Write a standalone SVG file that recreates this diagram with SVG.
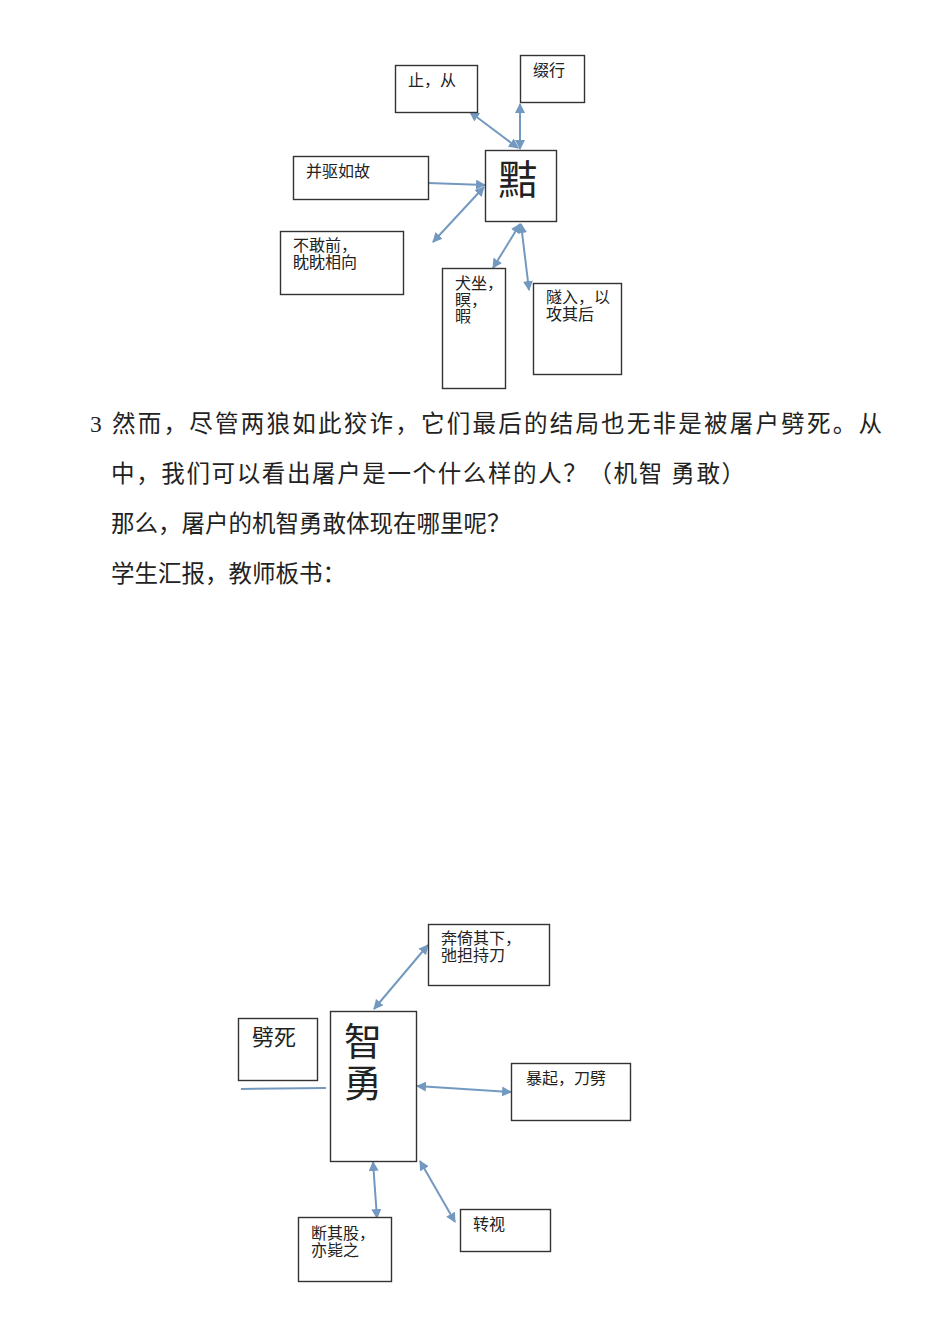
<svg xmlns="http://www.w3.org/2000/svg" width="950" height="1344" viewBox="0 0 950 1344">
<style>
.box{fill:#fff;stroke:#333;stroke-width:1.4}
.t{font-family:"Liberation Serif","Noto Sans CJK SC",serif;fill:#222}
.s{font-size:16px}
.p{font-size:23.5px}
.c{stroke:#7399c0;stroke-width:2;fill:none}
</style>
<defs>
<marker id="ah" viewBox="0 0 10 10" refX="9" refY="5" markerWidth="5" markerHeight="5" orient="auto-start-reverse" markerUnits="strokeWidth">
<path d="M0,0 L10,5 L0,10 Z" fill="#7399c0"/>
</marker>
</defs>
<rect width="950" height="1344" fill="#fff"/>

<g id="connectors">
<line class="c" x1="470" y1="112" x2="518" y2="148" marker-start="url(#ah)" marker-end="url(#ah)"/>
<line class="c" x1="520" y1="104" x2="520" y2="149" marker-start="url(#ah)" marker-end="url(#ah)"/>
<line class="c" x1="428" y1="183" x2="485" y2="185" marker-end="url(#ah)"/>
<line class="c" x1="484" y1="187" x2="433" y2="242" marker-start="url(#ah)" marker-end="url(#ah)"/>
<line class="c" x1="520" y1="224" x2="493" y2="268" marker-start="url(#ah)" marker-end="url(#ah)"/>
<line class="c" x1="521" y1="224" x2="529" y2="290" marker-start="url(#ah)" marker-end="url(#ah)"/>
<line class="c" x1="374" y1="1009" x2="428" y2="945" marker-start="url(#ah)" marker-end="url(#ah)"/>
<line class="c" x1="241" y1="1089" x2="326" y2="1088"/>
<line class="c" x1="417" y1="1086" x2="511" y2="1092" marker-start="url(#ah)" marker-end="url(#ah)"/>
<line class="c" x1="373" y1="1162" x2="377" y2="1218" marker-start="url(#ah)" marker-end="url(#ah)"/>
<line class="c" x1="420" y1="1161" x2="455" y2="1222" marker-start="url(#ah)" marker-end="url(#ah)"/>
</g>

<g id="n-zhicong"><rect class="box" x="395.5" y="65.5" width="82" height="47"/><text class="t s" x="408" y="86">止，从</text></g>
<g id="n-zhuixing"><rect class="box" x="520.5" y="55.5" width="64" height="47"/><text class="t s" x="533" y="76">缀行</text></g>
<g id="n-xia"><rect class="box" x="485.5" y="150.5" width="71" height="71"/><text class="t" x="518" y="194" font-size="40" text-anchor="middle">黠</text></g>
<g id="n-bingqu"><rect class="box" x="293.5" y="156.5" width="135" height="43"/><text class="t s" x="306" y="177">并驱如故</text></g>
<g id="n-bugan"><rect class="box" x="280.5" y="231.5" width="123" height="63"/><text class="t s" x="293" y="251">不敢前，</text><text class="t s" x="293" y="268">眈眈相向</text></g>
<g id="n-quanzuo"><rect class="box" x="442.5" y="268.5" width="63" height="120"/><text class="t s" x="455" y="289">犬坐，</text><text class="t s" x="455" y="306">瞑，</text><text class="t s" x="455" y="322">暇</text></g>
<g id="n-suiru"><rect class="box" x="533.5" y="283.5" width="88" height="91"/><text class="t s" x="546" y="303">隧入，以</text><text class="t s" x="546" y="320">攻其后</text></g>

<g id="paragraph">
<text class="t p" x="90" y="432" textLength="792" lengthAdjust="spacing">3  然而，尽管两狼如此狡诈，它们最后的结局也无非是被屠户劈死。从</text>
<text class="t p" x="111" y="482" textLength="634" lengthAdjust="spacing">中，我们可以看出屠户是一个什么样的人？（机智 勇敢）</text>
<text class="t p" x="111" y="532">那么，屠户的机智勇敢体现在哪里呢？</text>
<text class="t p" x="111" y="582">学生汇报，教师板书：</text>
</g>

<g id="n-benyi"><rect class="box" x="428.5" y="924.5" width="121" height="61"/><text class="t s" x="441" y="944">奔倚其下，</text><text class="t s" x="441" y="961">弛担持刀</text></g>
<g id="n-pisi"><rect class="box" x="238.5" y="1018.5" width="79" height="62"/><text class="t" x="252" y="1045" font-size="22">劈死</text></g>
<g id="n-zhiyong"><rect class="box" x="330.5" y="1011.5" width="86" height="150"/><text class="t" x="363" y="1055" font-size="38" text-anchor="middle">智</text><text class="t" x="363" y="1097" font-size="38" text-anchor="middle">勇</text></g>
<g id="n-baoqi"><rect class="box" x="511.5" y="1063.5" width="119" height="57"/><text class="t s" x="526" y="1084">暴起，刀劈</text></g>
<g id="n-zhuanshi"><rect class="box" x="460.5" y="1209.5" width="90" height="42"/><text class="t s" x="473" y="1230">转视</text></g>
<g id="n-duanqi"><rect class="box" x="298.5" y="1217.5" width="93" height="64"/><text class="t s" x="311" y="1239">断其股，</text><text class="t s" x="311" y="1256">亦毙之</text></g>
</svg>
